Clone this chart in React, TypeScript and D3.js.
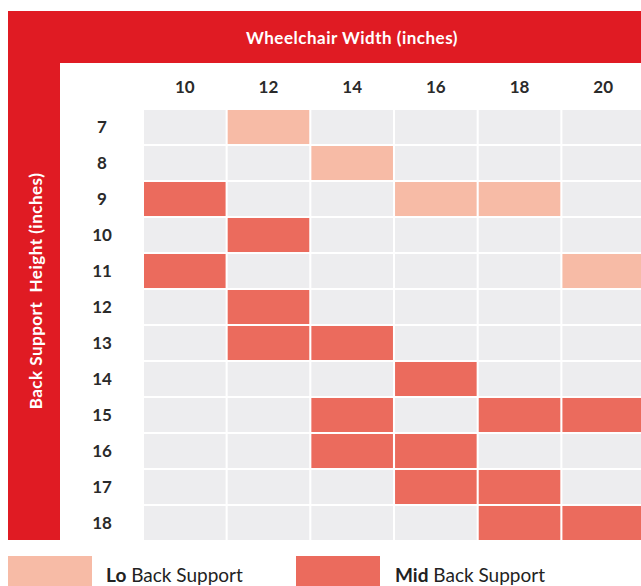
import React from 'react';
import * as d3 from 'd3';

const widths = [10, 12, 14, 16, 18, 20];
const heights = [7, 8, 9, 10, 11, 12, 13, 14, 15, 16, 17, 18];

// [height, width]
const loCells: [number, number][] = [
  [7, 12], [8, 14], [9, 16], [9, 18], [11, 20],
];
const midCells: [number, number][] = [
  [9, 10], [10, 12], [11, 10], [12, 12], [13, 12], [13, 14], [14, 16],
  [15, 14], [15, 18], [15, 20], [16, 14], [16, 16], [17, 16], [17, 18],
  [18, 18], [18, 20],
];

const RED = '#e01b23';
const LO = '#f7bba6';
const MID = '#eb6b5d';
const EMPTY = '#ededef';
const FONT = 'Lato, "Open Sans", sans-serif';

export default function App() {
  const W = 641;
  const H = 586;

  const x = d3.scaleBand<number>().domain(widths).range([144, 644]).paddingInner(0.025).paddingOuter(0);
  const y = d3.scaleBand<number>().domain(heights).range([110, 540]).paddingInner(0.055).paddingOuter(0);

  const kind = (h: number, w: number) => {
    if (loCells.some(([a, b]) => a === h && b === w)) return LO;
    if (midCells.some(([a, b]) => a === h && b === w)) return MID;
    return EMPTY;
  };

  return (
    <div style={{ position: 'fixed', left: 0, top: 0 }}>
      <svg width={W} height={H} style={{ display: 'block', background: '#fff' }}>
        <rect x={8} y={11} width={W - 8} height={52} fill={RED} />
        <rect x={8} y={11} width={52} height={529} fill={RED} />
        <text x={352} y={44} fill="#fff" fontFamily={FONT} fontWeight={700} fontSize={17} letterSpacing={0.5} textAnchor="middle">
          Wheelchair Width (inches)
        </text>
        <text
          transform="translate(42,291) rotate(-90)"
          fill="#fff" fontFamily={FONT} fontWeight={700} fontSize={17} letterSpacing={0.5} textAnchor="middle"
          style={{ whiteSpace: 'pre' }}
        >
          {'Back Support\u00a0\u00a0Height (inches)'}
        </text>

        {widths.map(w => (
          <text key={w} x={x(w)! + x.bandwidth() / 2} y={93} fontFamily={FONT} fontWeight={700}
            fontSize={17} fill="#2a2a2a" textAnchor="middle">{w}</text>
        ))}
        {heights.map(h => (
          <text key={h} x={102} y={y(h)! + y.bandwidth() / 2 + 6} fontFamily={FONT} fontWeight={700}
            fontSize={17} fill="#2a2a2a" textAnchor="middle">{h}</text>
        ))}

        {heights.map(h => widths.map(w => (
          <rect key={`${h}-${w}`} x={x(w)} y={y(h)} width={x.bandwidth()} height={y.bandwidth()} fill={kind(h, w)} />
        )))}

        <rect x={8} y={556} width={84} height={32} fill={LO} />
        <text x={106} y={582} fontFamily={FONT} fontSize={19} fill="#222">
          <tspan fontWeight={700}>Lo</tspan> Back Support
        </text>
        <rect x={296} y={556} width={84} height={32} fill={MID} />
        <text x={395} y={582} fontFamily={FONT} fontSize={19} fill="#222">
          <tspan fontWeight={700}>Mid</tspan> Back Support
        </text>
      </svg>
    </div>
  );
}
